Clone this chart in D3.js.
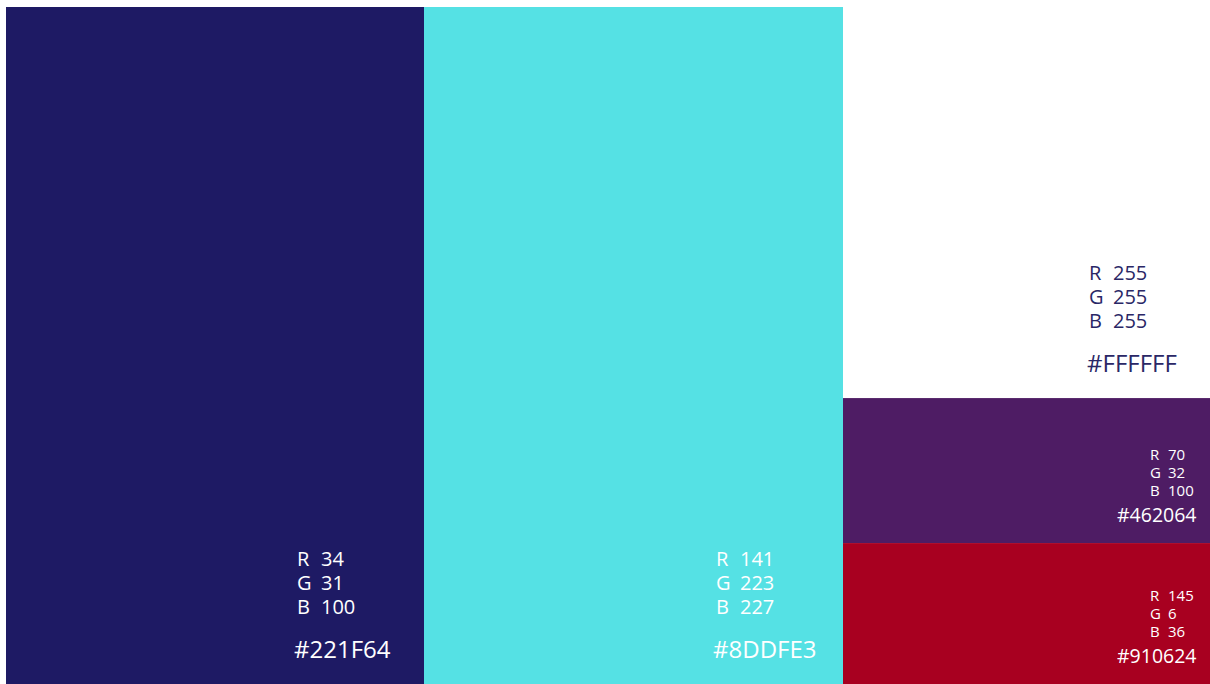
<!DOCTYPE html>
<html>
<head>
<meta charset="utf-8">
<script src="https://cdn.jsdelivr.net/npm/d3@7"></script>
<style>
  body { margin: 0; background: #ffffff; }
  svg { display: block; }
</style>
</head>
<body>
<div id="chart"></div>
<script>
(function(){

const width = 1210;
const height = 684;
const margin = {top:7, right:0, bottom:0, left:6};

// palette data
const hexNames = ["#221F64", "#8DDFE3", "#FFFFFF", "#462064", "#910624"];
const rgbR = [34, 141, 255, 70, 145];
const rgbG = [31, 223, 255, 32, 6];
const rgbB = [100, 227, 255, 100, 36];
const swatchFill = ["#1e1a64", "#55e1e4", "#ffffff", "#4e1c64", "#a80020"];
const swatchText = ["#ffffff", "#ffffff", "#2a2766", "#ffffff", "#ffffff"];
// share of area for each swatch (first two are full columns, last three stack in the third)
const columnShare = [418, 419];
const stackShare = [212, 78.6, 76.4];

const svg = d3.select("#chart")
  .append("svg")
  .attr("width", width)
  .attr("height", height);

const swatches = hexNames.map((h, i) => ({
  hex: h, r: rgbR[i], g: rgbG[i], b: rgbB[i],
  fill: swatchFill[i], text: swatchText[i]
}));

const tree = {
  name: "root",
  children: [
    Object.assign({value: columnShare[0]}, swatches[0]),
    Object.assign({value: columnShare[1]}, swatches[1]),
    {name: "stack", children: stackShare.map((v, k) => Object.assign({value: v}, swatches[k + 2]))}
  ]
};

const root = d3.hierarchy(tree).sum(d => d.value || 0);

d3.treemap()
  .size([width - margin.left - margin.right, height - margin.top - margin.bottom])
  .tile((node, x0, y0, x1, y1) => {
    if (node.depth === 0) d3.treemapDice(node, x0, y0, x1, y1);
    else d3.treemapSlice(node, x0, y0, x1, y1);
  })(root);

const g = svg.append("g")
  .attr("transform", `translate(${margin.left},${margin.top})`);

const cells = g.selectAll("g.cell")
  .data(root.leaves())
  .enter()
  .append("g")
  .attr("class", "cell");

cells.append("rect")
  .attr("x", d => d.x0)
  .attr("y", d => d.y0)
  .attr("width", d => d.x1 - d.x0)
  .attr("height", d => d.y1 - d.y0)
  .attr("fill", d => d.data.fill);

cells.each(function(d){
  const cell = d3.select(this);
  const big = (d.y1 - d.y0) > 200;
  const stacked = d.depth === 2;
  const rgbSize = big ? 20 : 15;
  const hexSize = big ? 24 : 19.5;
  const lineGap = big ? 24 : 18;
  let labelX, hexX;
  if (big && !stacked) { labelX = d.x1 - 127; hexX = d.x1 - 130; }
  else if (big) { labelX = d.x1 - 121; hexX = d.x1 - 123; }
  else { labelX = d.x1 - 60; hexX = d.x1 - 93; }
  const valueX = labelX + (big ? 24 : 18);
  const firstBase = d.y1 - (big ? 118 : 83);

  const rows = [["R", d.data.r], ["G", d.data.g], ["B", d.data.b]];
  rows.forEach((row, k) => {
    const t = cell.append("text")
      .attr("y", firstBase + k * lineGap)
      .attr("fill", d.data.text)
      .style("font-family", "'Open Sans', sans-serif")
      .style("font-size", rgbSize + "px");
    t.append("tspan").attr("x", labelX).text(row[0]);
    t.append("tspan").attr("x", valueX).text(row[1]);
  });

  cell.append("text")
    .attr("x", hexX)
    .attr("y", d.y1 - (big ? 26 : 21))
    .attr("fill", d.data.text)
    .style("font-family", "'Open Sans', sans-serif")
    .style("font-size", hexSize + "px")
    .text(d.data.hex);
});

})();
</script>
</body>
</html>
